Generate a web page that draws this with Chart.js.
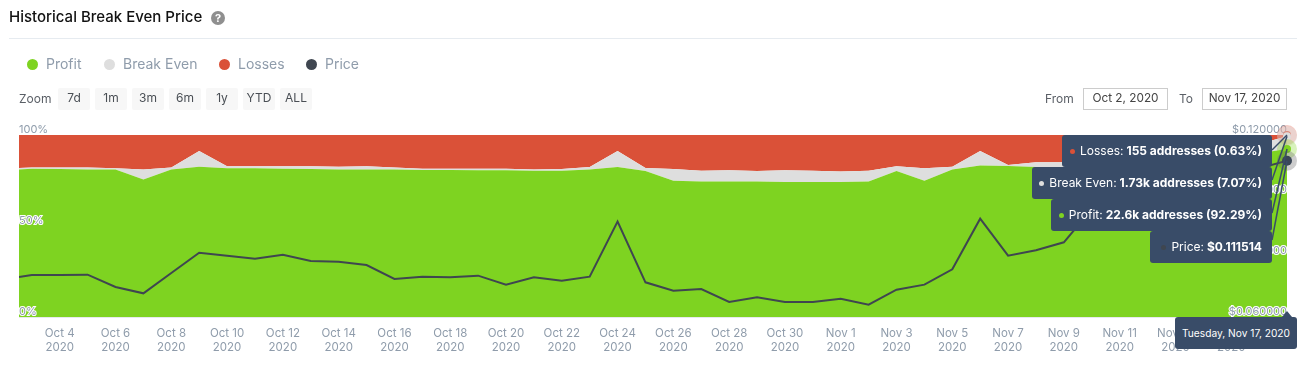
<!DOCTYPE html>
<html><head><meta charset="utf-8">
<script src="https://cdn.jsdelivr.net/npm/chart.js@4/dist/chart.umd.min.js"></script>
<style>
html,body{margin:0;padding:0;background:#fff;width:1307px;height:377px;overflow:hidden;font-family:Inter,sans-serif}
canvas{position:absolute;left:0;top:0}
.a{position:absolute;white-space:nowrap}
.title{left:9px;top:8px;font-size:15px;line-height:18px;font-weight:500;color:#111}
.help{left:211px;top:11px;width:14px;height:14px;border-radius:50%;background:#8f8f8f;color:#fff;font-size:11px;line-height:14px;font-weight:700;text-align:center}
.rule{left:9px;top:38px;width:1288px;height:1px;background:#e6ebf0}
.dot{width:11px;height:11px;border-radius:50%;top:59px}
.lg{top:55px;font-size:14px;line-height:18px;color:#8f9cab}
.zoom{left:19px;top:91px;font-size:12px;line-height:15px;color:#5a5f66}
.btn{top:88px;height:22px;width:32px;background:#f7f7f7;border-radius:2px;font-size:12px;line-height:20px;color:#4a4f55;text-align:center}
.lab{top:91px;font-size:12px;line-height:15px;color:#5a5f66}
.date{top:88px;height:20px;border:1px solid #ccc;font-size:11.8px;line-height:19px;color:#444;text-align:center;box-sizing:content-box}
.tip{background:#394c68;border-radius:3px;color:#fff;font-size:12px;line-height:16px;height:32px;display:flex;align-items:center;justify-content:flex-end;padding-right:10px;box-sizing:border-box}
.tip i{display:inline-block;width:5px;height:5px;border-radius:50%;margin-right:5px}
.tip b{font-weight:700;margin-left:3px;white-space:pre}
.arrow{left:1282px;top:311px;width:0;height:0;border-left:5px solid transparent;border-right:5px solid transparent;border-bottom:6px solid #394c68}
.dtip{left:1175px;top:317px;width:122px;height:32px;background:#394c68;border-radius:3px;color:#fff;font-size:10.2px;line-height:32px;text-align:center}
</style></head><body>
<canvas id="c" width="1307" height="377"></canvas>
<div class="a title">Historical Break Even Price</div>
<div class="a help">?</div>
<div class="a rule"></div>
<div class="a dot" style="left:27px;background:#7ed321"></div><div class="a lg" style="left:46px">Profit</div>
<div class="a dot" style="left:104px;background:#dedede"></div><div class="a lg" style="left:123px">Break Even</div>
<div class="a dot" style="left:219px;background:#da5138"></div><div class="a lg" style="left:238px">Losses</div>
<div class="a dot" style="left:306px;background:#3f4650"></div><div class="a lg" style="left:325px">Price</div>
<div class="a zoom">Zoom</div>
<div class="a btn" style="left:58px">7d</div><div class="a btn" style="left:95px">1m</div><div class="a btn" style="left:132px">3m</div><div class="a btn" style="left:169px">6m</div><div class="a btn" style="left:206px">1y</div><div class="a btn" style="left:243px">YTD</div><div class="a btn" style="left:280px">ALL</div>
<div class="a lab" style="left:1045px">From</div>
<div class="a date" style="left:1083px;width:83px">Oct 2, 2020</div>
<div class="a lab" style="left:1179px">To</div>
<div class="a date" style="left:1202px;width:83px">Nov 17, 2020</div>
<div class="a tip" style="left:1062px;top:135px;width:210px"><i style="background:#da5138"></i>Losses:<b>155 addresses (0.63%)</b></div>
<div class="a tip" style="left:1032px;top:167px;width:240px"><i style="background:#dedede"></i>Break Even:<b>1.73k addresses (7.07%)</b></div>
<div class="a tip" style="left:1051px;top:199px;width:221px"><i style="background:#7ed321"></i>Profit:<b>22.6k addresses (92.29%)</b></div>
<div class="a tip" style="left:1150px;top:231px;width:122px"><i style="background:#3f4650"></i>Price:<b>$0.111514</b></div>
<div class="a arrow"></div>
<div class="a dtip">Tuesday, Nov 17, 2020</div>
<script>
// Day number counted from Oct 1 = 1 (Nov 1 = 32); the first sample falls part-way through Oct 2
const days = [2.54,3,4,5,6,7,8,9,10,11,12,13,14,15,16,17,18,19,20,21,22,23,24,25,26,27,28,29,30,31,32,33,34,35,36,37,38,39,40,41,42,43,44,45,46,47,48];
const profit = [81.1,81.5,81.3,81.1,81.0,75.6,81.1,82.6,81.7,81.7,81.5,81.3,81.1,81.1,81.0,80.8,80.8,80.6,80.6,80.4,80.4,81.0,82.4,80.2,74.9,74.5,74.4,74.4,74.2,74.2,74.2,74.4,80.2,74.9,81.1,83.3,83.0,82.4,82.4,83,84,85,86.5,87.5,88.5,90,92.29];
const breakEven = [0.8,0.7,0.8,1.1,0.7,5.4,1.0,8.6,1.1,1.1,1.3,1.5,1.5,1.7,1.2,0.7,0.7,0.9,0.9,0.6,0.9,1.4,8.8,1.7,6.4,5.9,6.2,5.8,6.4,6.2,5.8,6.0,2.6,6.8,1.5,7.9,0.5,2.6,2.6,3,3,3,2.5,2.5,3.5,5,7.07];
const losses = [18.1,17.8,17.9,17.8,18.3,19.0,17.9,8.8,17.2,17.2,17.2,17.2,17.4,17.2,17.8,18.5,18.5,18.5,18.5,19.0,18.7,17.6,8.8,18.1,18.7,19.6,19.4,19.8,19.4,19.6,20.0,19.6,17.2,18.3,17.4,8.8,16.5,15,15,14,13,12,11,10,8,5,0.64];
const price = [0.07319,0.07385,0.07385,0.07396,0.06989,0.0678,0.07451,0.08121,0.08022,0.07923,0.08055,0.07846,0.07824,0.07714,0.07253,0.0733,0.07308,0.07363,0.07066,0.07308,0.07198,0.0733,0.09143,0.07143,0.06868,0.06923,0.06495,0.06648,0.06495,0.06495,0.06604,0.06407,0.06901,0.07066,0.07571,0.09242,0.08022,0.08198,0.08462,0.0956,0.098,0.102,0.105,0.103,0.106,0.109,0.111514];
const tickDays = [4,6,8,10,12,14,16,18,20,22,24,26,28,30,32,34,36,38,40,42,44,46];
const tickLabels = ["Oct 4","Oct 6","Oct 8","Oct 10","Oct 12","Oct 14","Oct 16","Oct 18","Oct 20","Oct 22","Oct 24","Oct 26","Oct 28","Oct 30","Nov 1","Nov 3","Nov 5","Nov 7","Nov 9","Nov 11","Nov 13","Nov 15"];
const tickYear = "2020";
const pctTicks = [0,50,100];
const priceTicks = [0.06,0.08,0.10,0.12];

const pts = a => a.map((y,i)=>({x:days[i],y}));
const area = (label,data,color,fill)=>({label,data:pts(data),yAxisID:'y',backgroundColor:color,borderColor:color,borderWidth:0,pointRadius:0,fill,tension:0,clip:false});
const C = '#8f9cab';
const yTicks = {mirror:true,padding:0,z:1,color:C,font:{family:'Inter',size:11},labelOffset:-5.5,textStrokeColor:'#fff',textStrokeWidth:2,autoSkip:false,maxRotation:0};

const overlay = {
  id:'overlay',
  afterDraw(ch){
    const g = ch.ctx;
    const styles = [['#7ed321','rgba(126,211,33,.3)',4],['#dedede','rgba(222,222,222,.4)',4],['#da5138','rgba(218,81,56,.3)',4],['#3a4656','rgba(90,90,90,.3)',5]];
    const order = [2,1,0,3];
    order.forEach(i=>{
      const els = ch.getDatasetMeta(i).data, p = els[els.length-1];
      g.beginPath();g.arc(p.x,p.y,10,0,Math.PI*2);g.fillStyle=styles[i][1];g.fill();
      g.beginPath();g.arc(p.x,p.y,styles[i][2],0,Math.PI*2);g.fillStyle=styles[i][0];g.fill();
    });
    // callout stems, from each tooltip's right edge to its series' last point
    const from = [213,180,150,240];
    g.strokeStyle='#394c68';g.lineWidth=1.5;
    from.forEach((fy,i)=>{
      const els = ch.getDatasetMeta(i).data, p = els[els.length-1];
      g.beginPath();g.moveTo(1272,fy);g.lineTo(p.x,p.y);g.stroke();
    });
  }
};

new Chart(document.getElementById('c'),{
  type:'line',
  data:{datasets:[
    area('Profit',profit,'#7ed321','origin'),
    area('Break Even',breakEven,'#dedede','-1'),
    area('Losses',losses,'#da5138','-1'),
    {label:'Price',data:pts(price),yAxisID:'y1',borderColor:'#3f4650',backgroundColor:'#3f4650',borderWidth:2,pointRadius:0,fill:false,tension:0,order:-1}
  ]},
  options:{
    responsive:false,animation:false,
    layout:{padding:{left:19,right:20,top:135,bottom:0}},
    plugins:{legend:{display:false},tooltip:{enabled:false}},
    scales:{
      x:{type:'linear',min:days[0],max:days[days.length-1],
        grid:{display:false},border:{display:false},
        afterBuildTicks:s=>{s.ticks=tickDays.map(v=>({value:v}))},
        afterFit:s=>{s.height=60},
        ticks:{autoSkip:false,maxRotation:0,padding:2,color:C,font:{family:'Inter',size:11.5,lineHeight:1.2},
          callback:v=>[tickLabels[tickDays.indexOf(v)],tickYear]}},
      y:{stacked:true,min:0,max:100,position:'left',
        grid:{color:'#e6e9ed',drawTicks:false},border:{display:false},
        afterBuildTicks:s=>{s.ticks=pctTicks.map(v=>({value:v}))},
        afterFit:s=>{s.width=0},
        ticks:{...yTicks,callback:v=>v+'%'}},
      y1:{min:0.06,max:0.12,position:'right',
        grid:{display:false,drawTicks:false},border:{display:false},
        afterBuildTicks:s=>{s.ticks=priceTicks.map(v=>({value:v}))},
        afterFit:s=>{s.width=0},
        ticks:{...yTicks,callback:v=>'$'+v.toFixed(6)}}
    }
  },
  plugins:[overlay]
});
</script>
</body></html>
